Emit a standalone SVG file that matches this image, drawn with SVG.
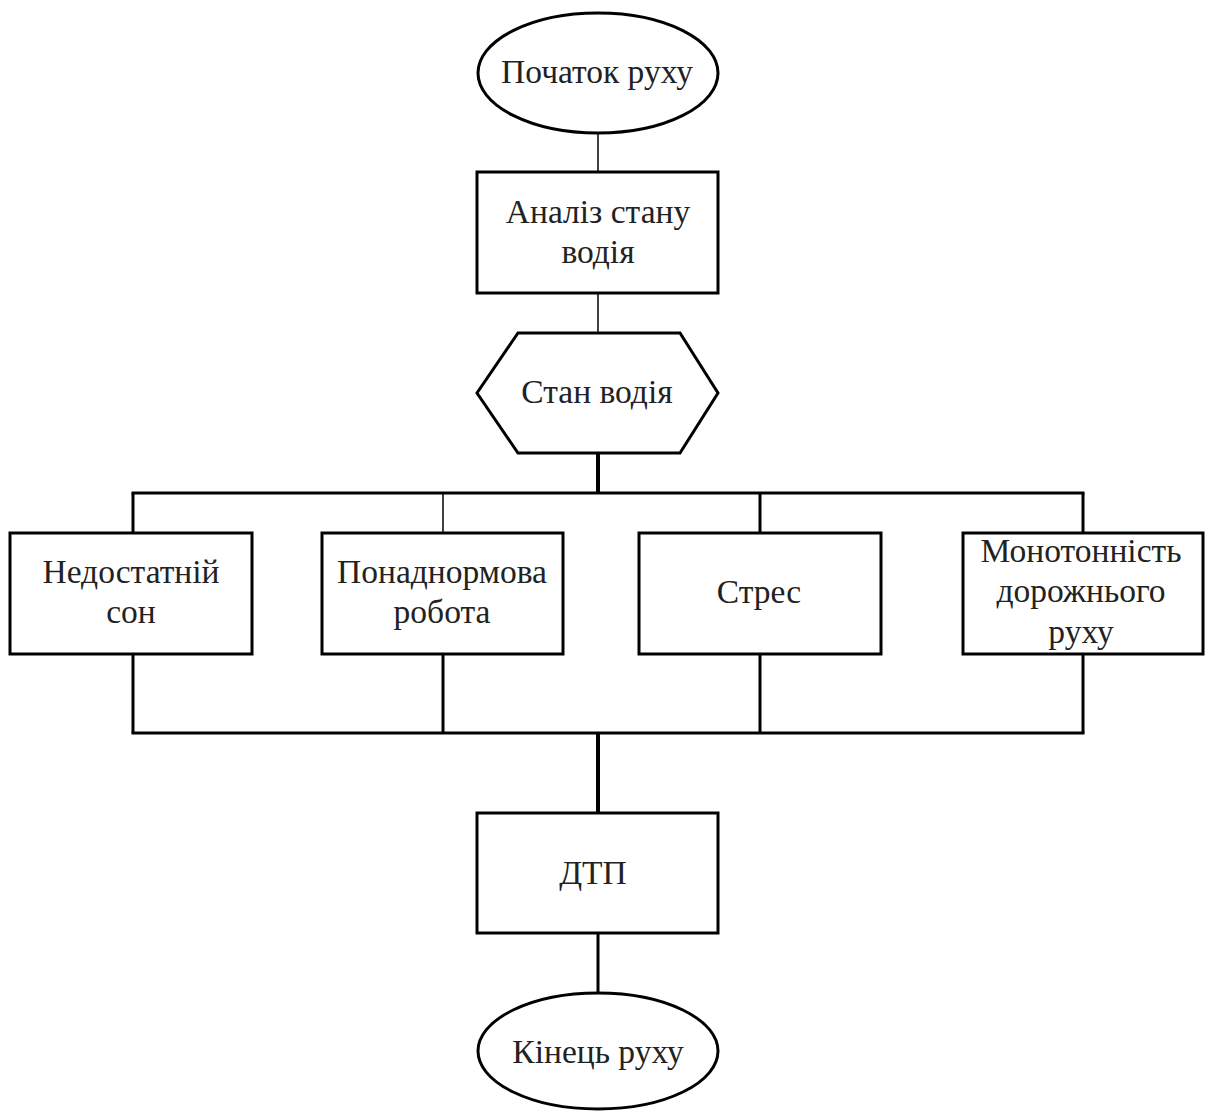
<svg xmlns="http://www.w3.org/2000/svg" width="1206" height="1112" viewBox="0 0 1206 1112">
<style>
.shape{fill:#fff;stroke:#000;stroke-width:3}
.lbl{font-family:"Liberation Serif","Times New Roman",serif;font-size:33.5px;fill:#222;text-anchor:middle}
.thin{stroke:#000;stroke-width:1.5;fill:none}
.mid{stroke:#000;stroke-width:3;fill:none}
.thick{stroke:#000;stroke-width:4;fill:none}
</style>
<rect width="1206" height="1112" fill="#fff"/>
<g id="connectors">
<line class="thin" x1="598" y1="133" x2="598" y2="172"/>
<line class="thin" x1="598" y1="293" x2="598" y2="333"/>
<line class="thick" x1="598" y1="453" x2="598" y2="493"/>
<line class="mid" x1="131.5" y1="493" x2="1084.5" y2="493"/>
<line class="mid" x1="133" y1="493" x2="133" y2="533"/>
<line class="thin" x1="443" y1="493" x2="443" y2="533"/>
<line class="mid" x1="760" y1="493" x2="760" y2="533"/>
<line class="mid" x1="1083" y1="493" x2="1083" y2="533"/>
<line class="mid" x1="133" y1="654" x2="133" y2="733"/>
<line class="mid" x1="443" y1="654" x2="443" y2="733"/>
<line class="mid" x1="760" y1="654" x2="760" y2="733"/>
<line class="mid" x1="1083" y1="654" x2="1083" y2="733"/>
<line class="mid" x1="131.5" y1="733" x2="1084.5" y2="733"/>
<line class="thick" x1="598" y1="733" x2="598" y2="813"/>
<line class="mid" x1="598" y1="933" x2="598" y2="993"/>
</g>
<g id="start">
<ellipse class="shape" cx="598" cy="73" rx="120" ry="60"/>
<text class="lbl" x="597" y="83">Початок руху</text>
</g>
<g id="analysis">
<rect class="shape" x="477" y="172" width="241" height="121"/>
<text class="lbl" x="598" y="223">Аналіз стану</text>
<text class="lbl" x="598" y="263">водія</text>
</g>
<g id="state">
<polygon class="shape" points="518,333 680,333 718,393 680,453 518,453 477,393"/>
<text class="lbl" x="597" y="403">Стан водія</text>
</g>
<g id="sleep">
<rect class="shape" x="10" y="533" width="242" height="121"/>
<text class="lbl" x="131" y="583">Недостатній</text>
<text class="lbl" x="131" y="623">сон</text>
</g>
<g id="overtime">
<rect class="shape" x="322" y="533" width="241" height="121"/>
<text class="lbl" x="442" y="583">Понаднормова</text>
<text class="lbl" x="442" y="623">робота</text>
</g>
<g id="stress">
<rect class="shape" x="639" y="533" width="242" height="121"/>
<text class="lbl" x="759" y="603">Стрес</text>
</g>
<g id="monotony">
<rect class="shape" x="963" y="533" width="240" height="121"/>
<text class="lbl" x="1081" y="562">Монотонність</text>
<text class="lbl" x="1081" y="602">дорожнього</text>
<text class="lbl" x="1081" y="643">руху</text>
</g>
<g id="accident">
<rect class="shape" x="477" y="813" width="241" height="120"/>
<text class="lbl" x="593" y="884">ДТП</text>
</g>
<g id="end">
<ellipse class="shape" cx="598" cy="1051" rx="120" ry="58"/>
<text class="lbl" x="598" y="1063">Кінець руху</text>
</g>
</svg>
